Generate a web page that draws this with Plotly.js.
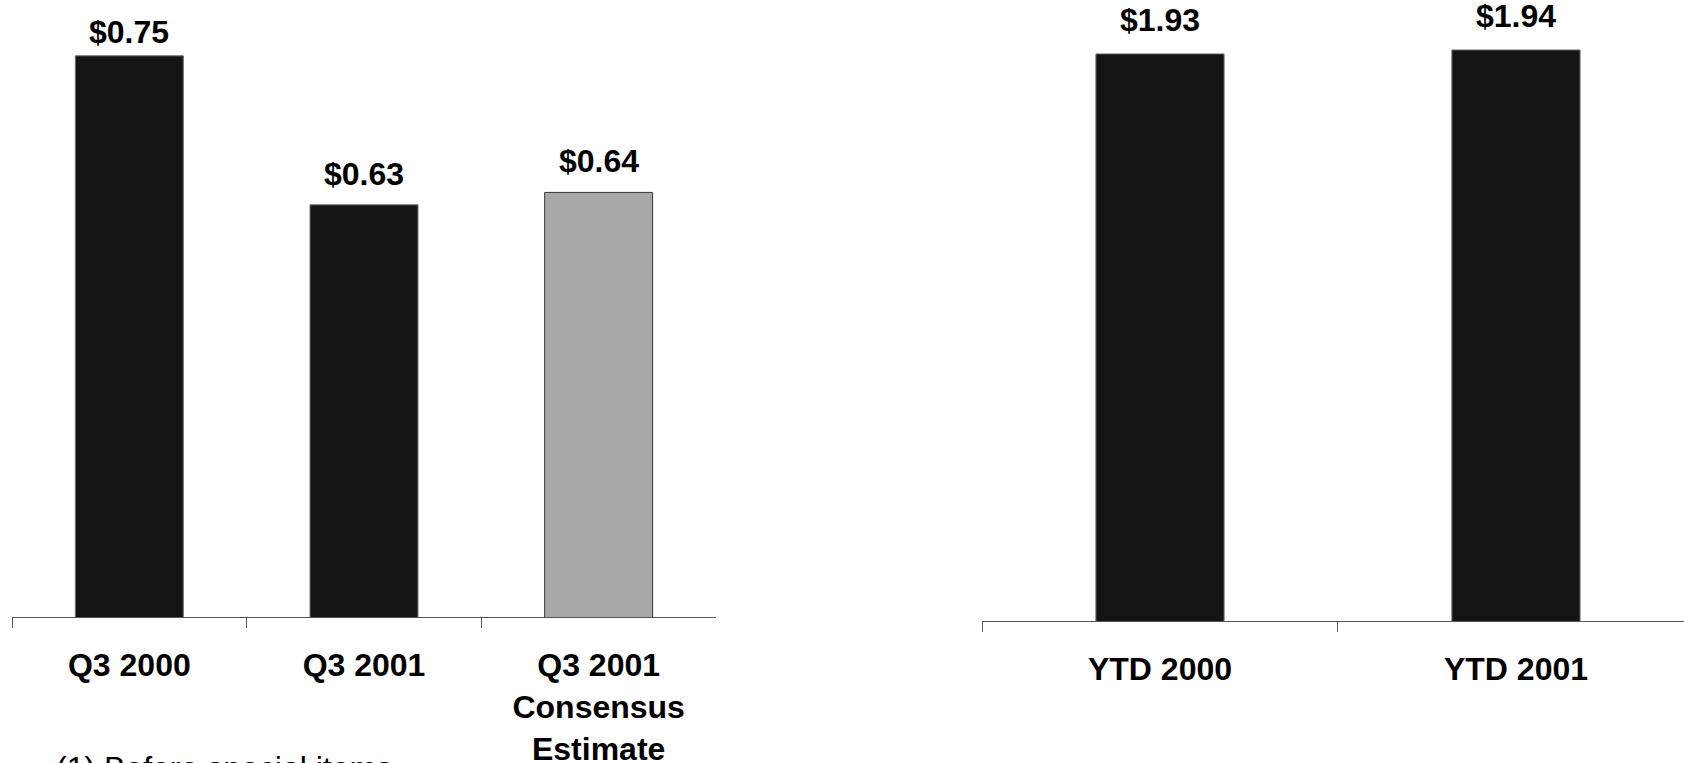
<!DOCTYPE html>
<html>
<head>
<meta charset="utf-8">
<script src="https://cdn.plot.ly/plotly-3.0.1.min.js"></script>
<style>
  html, body { margin: 0; padding: 0; background: #fff; }
  #chart { width: 1684px; height: 763px; }
</style>
</head>
<body>
<div id="chart"></div>
<script>
// Data
const quarterCats = ['Q3 2000', 'Q3 2001', 'Q3 2001<br>Consensus<br>Estimate'];
const quarterVals = [0.75, 0.63, 0.64];
const quarterLabels = ['$0.75', '$0.63', '$0.64'];
const ytdCats = ['YTD 2000', 'YTD 2001'];
const ytdVals = [1.93, 1.94];
const ytdLabels = ['$1.93', '$1.94'];
const footnote = '(1) Before special items';

const FONT = '"Liberation Sans", Arial, Helvetica, sans-serif';
const W = 1684, H = 763;
const QUARTER_LABEL_SHIFT = [4, 11, 11];

const traces = [
  {
    type: 'bar', x: quarterCats, y: quarterVals, xaxis: 'x', yaxis: 'y',
    width: 0.46,
    marker: { color: ['#141414', '#141414', '#a8a8a8'],
              line: { color: ['#6a6a6a', '#6a6a6a', '#333333'], width: 1 } },
    hoverinfo: 'skip', showlegend: false
  },
  {
    type: 'bar', x: ytdCats, y: ytdVals, xaxis: 'x2', yaxis: 'y2',
    width: 0.36,
    marker: { color: '#141414', line: { color: '#6a6a6a', width: 1 } },
    hoverinfo: 'skip', showlegend: false
  }
];

const labelFont = { family: FONT, size: 32, color: '#000', weight: 'bold' };
const annotations = [];
quarterCats.forEach((c, i) => annotations.push({
  x: c, y: quarterVals[i], xref: 'x', yref: 'y', text: quarterLabels[i],
  showarrow: false, yanchor: 'bottom', yshift: QUARTER_LABEL_SHIFT[i], font: labelFont
}));
ytdCats.forEach((c, i) => annotations.push({
  x: c, y: ytdVals[i], xref: 'x2', yref: 'y2', text: ytdLabels[i],
  showarrow: false, yanchor: 'bottom', yshift: 14, font: labelFont
}));
annotations.push({
  x: 54 / W, y: (H - 768) / H, xref: 'paper', yref: 'paper', text: footnote,
  showarrow: false, xanchor: 'left', yanchor: 'middle',
  font: { family: FONT, size: 32, color: '#000' }
});

const xCommon = {
  type: 'category', tickson: 'boundaries', ticks: 'outside', ticklen: 10,
  tickcolor: '#555', tickwidth: 1, showline: true, linecolor: '#555', linewidth: 1,
  showgrid: false, zeroline: false, fixedrange: true,
  ticklabelstandoff: 20,
  tickfont: labelFont
};

const layout = {
  width: W, height: H,
  margin: { l: 0, r: 0, t: 0, b: 0, pad: 0 },
  paper_bgcolor: '#fff', plot_bgcolor: '#fff',
  font: { family: FONT, color: '#000' },
  xaxis: Object.assign({}, xCommon, { domain: [12 / W, 716 / W], anchor: 'y', range: [-0.5, 2.5] }),
  yaxis: { domain: [(H - 617) / H, 1], anchor: 'x', range: [0.298, 0.795], visible: false, showgrid: false, zeroline: false },
  xaxis2: Object.assign({}, xCommon, { domain: [982 / W, 1], anchor: 'y2', range: [-0.5, 1.472] }),
  yaxis2: { domain: [(H - 621) / H, 1], anchor: 'x2', range: [0.5, 2.066], visible: false, showgrid: false, zeroline: false },
  annotations: annotations,
  showlegend: false
};

Plotly.newPlot('chart', traces, layout, { displayModeBar: false, staticPlot: true });
</script>
</body>
</html>
